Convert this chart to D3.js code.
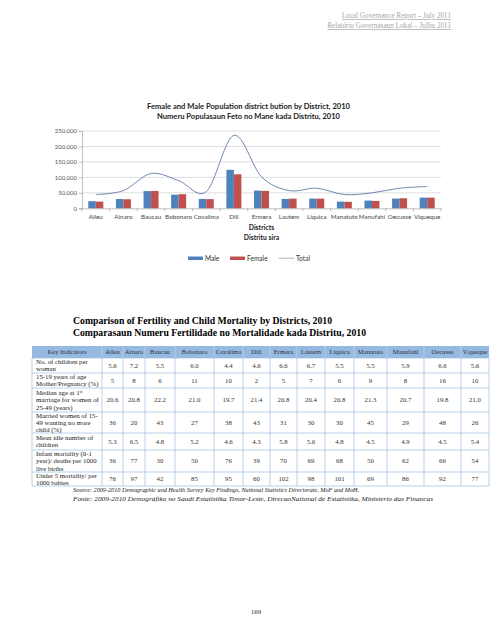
<!DOCTYPE html>
<html><head><meta charset="utf-8">
<script src="https://cdn.jsdelivr.net/npm/d3@7"></script>
<style>
html,body{margin:0;padding:0;background:#fff;}
svg{display:block;}
</style></head>
<body>
<svg id="c" width="495" height="640"></svg>
<script>
// ---------- DATA ----------
const districts = ["Aileu","Ainaro","Baucau","Bobonaro","Covalima","Dili","Ermera","Lautem","Liquica","Manatuto","Manufahi","Oecusse","Viqueque"];
const male   = [23000, 30000, 55600, 44000, 30300, 124400, 57300, 30300, 31400, 21600, 24900, 31400, 34600];
const female = [21700, 29200, 56100, 45500, 29700, 110000, 56300, 31400, 31400, 21000, 23800, 32500, 34600];
const total  = [44700, 57300, 112500, 89500, 54000, 236000, 102000, 57300, 65000, 44500, 50000, 65000, 70400];
const seriesNames = ["Male","Female","Total"];
const yTicks = [0, 50000, 100000, 150000, 200000, 250000];

const tableHeader = ["Key Indicators","Aileu","Ainaro","Baucau","Bobonaro","Covalima","Dili","Ermera","Lautem","Liquica","Manatuto","Manufahi","Oecusse","V.queque"];
const indicatorLabels = [
  ["No. of children per","woman"],
  ["15-19 years of age","Mother/Pregnancy (%)"],
  ["Median age at 1^st","marriage for women of","25-49 (years)"],
  ["Married women of 15-","49 wanting no more","child (%)"],
  ["Mean idle number of","children"],
  ["Infant mortality (0-1","year)/ deaths per 1000","live births"],
  ["Under 5 mortality/ per","1000 babies"]
];
const rowChildren  = ["5.6","7.2","5.5","6.0","4.4","4.6","6.6","6.7","5.5","5.5","5.9","6.6","5.6"];
const rowTeenPreg  = ["5","8","6","11","10","2","5","7","6","9","8","16","10"];
const rowMarriage  = ["20.6","20.8","22.2","21.0","19.7","21.4","20.8","20.4","20.8","21.3","20.7","19.8","21.0"];
const rowNoMore    = ["36","20","43","27","38","43","31","30","30","45","29","48","26"];
const rowIdeal     = ["5.3","6.5","4.8","5.2","4.6","4.3","5.8","5.6","4.8","4.5","4.9","4.5","5.4"];
const rowInfant    = ["36","77","30","50","76","39","70","69","68","50","62","66","54"];
const rowUnder5    = ["76","97","42","85","95","60","102","98","101","69","86","92","77"];
const tableRows = [rowChildren,rowTeenPreg,rowMarriage,rowNoMore,rowIdeal,rowInfant,rowUnder5];

// ---------- LAYOUT ----------
const svg = d3.select("#c");
svg.append("rect").attr("width",495).attr("height",640).attr("fill","#fff");

const sans = "Lato, 'Open Sans', sans-serif";
const serif = "'Liberation Serif', 'DejaVu Serif', serif";

// page header
[["Local Governance Report – July 2011",18],["Relatório Governasaun Lokal – Julhu 2011",28]].forEach(([t,y])=>{
  svg.append("text").attr("x",451).attr("y",y).attr("text-anchor","end")
    .attr("font-family",serif).attr("font-size",7.2).attr("fill","#a6a6a6")
    .attr("text-decoration","underline").text(t);
});

// chart title
svg.append("text").attr("x",248.5).attr("y",109).attr("text-anchor","middle")
  .attr("font-family",sans).attr("font-weight","bold").attr("font-size",7.6).attr("fill","#222")
  .attr("textLength",203).attr("lengthAdjust","spacingAndGlyphs")
  .text("Female and Male Population district bution by District, 2010");
svg.append("text").attr("x",248.5).attr("y",119).attr("text-anchor","middle")
  .attr("font-family",sans).attr("font-weight","bold").attr("font-size",7.6).attr("fill","#222")
  .attr("textLength",183).attr("lengthAdjust","spacingAndGlyphs")
  .text("Numeru Populasaun Feto no Mane kada Distritu, 2010");

const x = d3.scaleBand().domain(districts).range([82,441]);
const y = d3.scaleLinear().domain([0,250000]).range([208.3,131]);

// grid
svg.append("g").selectAll("line").data(yTicks.slice(1)).join("line")
  .attr("x1",82).attr("x2",441).attr("y1",d=>y(d)).attr("y2",d=>y(d))
  .attr("stroke","#d0d0d0").attr("stroke-width",0.7);

// y axis
const yAxis = svg.append("g").attr("transform","translate(82,0)")
  .call(d3.axisLeft(y).tickValues(yTicks).tickSize(3).tickPadding(2).tickFormat(d3.format(",")));
yAxis.select(".domain").attr("stroke","#a6a6a6").attr("stroke-width",0.7);
yAxis.selectAll(".tick line").attr("stroke","#a6a6a6").attr("stroke-width",0.7);
yAxis.selectAll("text").attr("font-family",sans).attr("font-size",6).attr("fill","#555");

// x axis
const xAxis = svg.append("g").attr("transform",`translate(0,${y(0)})`)
  .call(d3.axisBottom(x).tickSize(0).tickPadding(6));
xAxis.select(".domain").attr("stroke","#a6a6a6").attr("stroke-width",0.7);
xAxis.selectAll("text").attr("font-family",sans).attr("font-size",6.3).attr("fill","#444");
svg.append("g").selectAll("line").data(districts.concat(["__end"])).join("line")
  .attr("x1",(d,i)=>i<districts.length?x(d):x.range()[1]).attr("x2",(d,i)=>i<districts.length?x(d):x.range()[1])
  .attr("y1",y(0)).attr("y2",y(0)+3).attr("stroke","#a6a6a6").attr("stroke-width",0.7);

// bars
const bw = 7.5;
svg.append("g").selectAll("rect").data(districts).join("rect")
  .attr("x",d=>x(d)+x.bandwidth()/2-bw).attr("width",bw)
  .attr("y",(d,i)=>y(male[i])).attr("height",(d,i)=>y(0)-y(male[i]))
  .attr("fill","#4f81bd");
svg.append("g").selectAll("rect").data(districts).join("rect")
  .attr("x",d=>x(d)+x.bandwidth()/2).attr("width",bw)
  .attr("y",(d,i)=>y(female[i])).attr("height",(d,i)=>y(0)-y(female[i]))
  .attr("fill","#c0504d");

// total smooth line
const line = d3.line().x((d,i)=>x(districts[i])+x.bandwidth()/2).y(d=>y(d)).curve(d3.curveCardinal.tension(0));
svg.append("path").datum(total).attr("d",line).attr("fill","none")
  .attr("stroke","#5f7aa6").attr("stroke-width",0.9);

// axis title
svg.append("text").attr("x",261.5).attr("y",230).attr("text-anchor","middle")
  .attr("font-family",sans).attr("font-weight","bold").attr("font-size",6.8).attr("fill","#222").text("Districts");
svg.append("text").attr("x",261.5).attr("y",240).attr("text-anchor","middle")
  .attr("font-family",sans).attr("font-weight","bold").attr("font-size",6.8).attr("fill","#222").text("Distritu sira");

// legend
const lg = svg.append("g");
const legPos = [188,230,279];
seriesNames.forEach((n,i)=>{
  const lx = legPos[i];
  if(i<2){
    lg.append("rect").attr("x",lx).attr("y",256.5).attr("width",15).attr("height",3.5)
      .attr("fill",i===0?"#4f81bd":"#c0504d");
  } else {
    lg.append("line").attr("x1",lx).attr("x2",lx+15).attr("y1",258.2).attr("y2",258.2)
      .attr("stroke","#a0a8b8").attr("stroke-width",0.9);
  }
  lg.append("text").attr("x",lx+17).attr("y",260.5).attr("font-family",sans).attr("font-size",6.6)
    .attr("fill","#333").text(n);
});

// ---------- TABLE ----------
svg.append("text").attr("x",73).attr("y",324).attr("font-family",serif).attr("font-weight","bold")
  .attr("font-size",10.5).attr("fill","#000").attr("textLength",259).attr("lengthAdjust","spacingAndGlyphs")
  .text("Comparison of Fertility and Child Mortality by Districts, 2010");
svg.append("text").attr("x",73).attr("y",336).attr("font-family",serif).attr("font-weight","bold")
  .attr("font-size",10.5).attr("fill","#000").attr("textLength",293).attr("lengthAdjust","spacingAndGlyphs")
  .text("Comparasaun Numeru Fertilidade no Mortalidade kada Distritu, 2010");

const colEdges = [32,102,123,145,175,214,243,270,297,325,354,387,424,461,489];
const rowEdges = [346,358,373,388,412,433,450,472,486];
const tg = svg.append("g");
// header fill
tg.append("rect").attr("x",colEdges[0]).attr("y",rowEdges[0]).attr("width",colEdges[colEdges.length-1]-colEdges[0])
  .attr("height",rowEdges[1]-rowEdges[0]).attr("fill","#95b9e1");
// header separators
tg.selectAll("line.hs").data(colEdges.slice(1,-1)).join("line").attr("class","hs")
  .attr("x1",d=>d).attr("x2",d=>d).attr("y1",rowEdges[0]).attr("y2",rowEdges[1])
  .attr("stroke","#c9dcf2").attr("stroke-width",0.6);
// body grid
tg.selectAll("line.v").data(colEdges).join("line").attr("class","v")
  .attr("x1",d=>d).attr("x2",d=>d).attr("y1",rowEdges[1]).attr("y2",rowEdges[rowEdges.length-1])
  .attr("stroke","#9cbde3").attr("stroke-width",0.7);
tg.selectAll("line.h").data(rowEdges.slice(1)).join("line").attr("class","h")
  .attr("x1",colEdges[0]).attr("x2",colEdges[colEdges.length-1]).attr("y1",d=>d).attr("y2",d=>d)
  .attr("stroke","#9cbde3").attr("stroke-width",0.7);

// header text
tableHeader.forEach((h,j)=>{
  tg.append("text").attr("x",(colEdges[j]+colEdges[j+1])/2).attr("y",354.3).attr("text-anchor","middle")
    .attr("font-family",serif).attr("font-size",6.6).attr("fill","#333").text(h);
});
// body
tableRows.forEach((row,r)=>{
  const top = rowEdges[r+1], bot = rowEdges[r+2], mid=(top+bot)/2;
  const lines = indicatorLabels[r];
  lines.forEach((ln,k)=>{
    const cy = mid + (k-(lines.length-1)/2)*7.3;
    const t = tg.append("text").attr("x",36).attr("y",cy+2.3).attr("font-family",serif)
      .attr("font-size",6.8).attr("fill","#222");
    if(ln.includes("^")){
      const [a,b]=ln.split("^");
      t.append("tspan").text(a);
      t.append("tspan").attr("dy",-2.5).attr("font-size",4.3).text(b);
    } else t.text(ln);
  });
  row.forEach((v,j)=>{
    tg.append("text").attr("x",(colEdges[j+1]+colEdges[j+2])/2).attr("y",mid+2.4).attr("text-anchor","middle")
      .attr("font-family",serif).attr("font-size",6.8).attr("fill","#333").text(v);
  });
});

// source
svg.append("text").attr("x",73).attr("y",492).attr("font-family",serif).attr("font-style","italic")
  .attr("font-size",6.8).attr("fill","#222").attr("textLength",286).attr("lengthAdjust","spacingAndGlyphs")
  .text("Source: 2009-2010 Demographic and Health Survey Key Findings, National Statistics Directorate, MoF and MoH.");
svg.append("text").attr("x",73).attr("y",501).attr("font-family",serif).attr("font-style","italic")
  .attr("font-size",6.8).attr("fill","#222").attr("textLength",360).attr("lengthAdjust","spacingAndGlyphs")
  .text("Fonte: 2009-2010 Demográfiku no Saudi Estatístika Timor-Leste, DirecaoNational de Estatistika, Ministerio das Financas");

// page number
svg.append("text").attr("x",256).attr("y",614).attr("text-anchor","middle").attr("font-family",serif)
  .attr("font-size",7).attr("fill","#333").text("169");
</script>
</body></html>
